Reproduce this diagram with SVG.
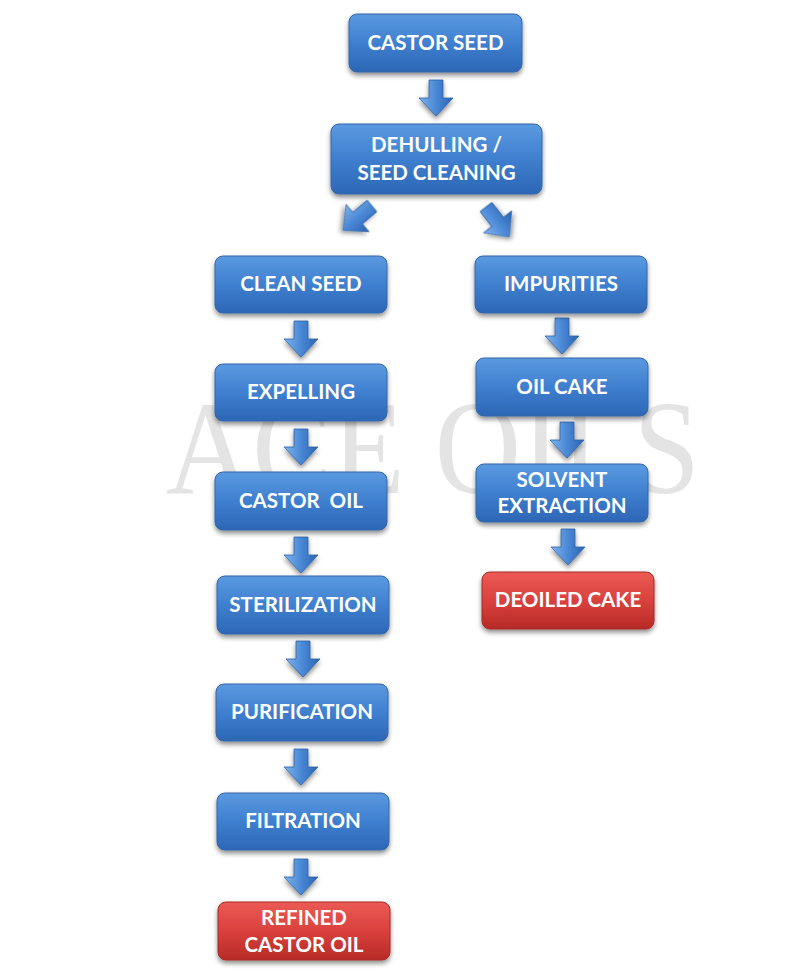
<svg xmlns="http://www.w3.org/2000/svg" width="796" height="979" viewBox="0 0 796 979">
<defs>
<linearGradient id="gb" x1="0" y1="0" x2="0" y2="1">
<stop offset="0" stop-color="#5b9ae0"/>
<stop offset="0.5" stop-color="#3f7fcf"/>
<stop offset="1" stop-color="#2c67b5"/>
</linearGradient>
<linearGradient id="gr" x1="0" y1="0" x2="0" y2="1">
<stop offset="0" stop-color="#ec5a55"/>
<stop offset="0.5" stop-color="#d9413d"/>
<stop offset="1" stop-color="#b82a27"/>
</linearGradient>
<linearGradient id="ga" x1="0" y1="0" x2="1" y2="0">
<stop offset="0" stop-color="#7fb3ea"/>
<stop offset="0.5" stop-color="#4a88d6"/>
<stop offset="1" stop-color="#2a63b0"/>
</linearGradient>
<filter id="sh" x="-10%" y="-20%" width="120%" height="150%">
<feGaussianBlur in="SourceAlpha" stdDeviation="2.5"/>
<feOffset dx="0" dy="3" result="b"/>
<feComponentTransfer><feFuncA type="linear" slope="0.45"/></feComponentTransfer>
<feMerge><feMergeNode/><feMergeNode in="SourceGraphic"/></feMerge>
</filter>
<path id="arr" d="M-7,0 H7 V18 H17 L0,36 L-17,18 H-7 Z"/>
</defs>
<style>
.b{fill:url(#gb);stroke:#3266a8;stroke-width:1;filter:url(#sh)}
.r{fill:url(#gr);stroke:#a52a27;stroke-width:1;filter:url(#sh)}
.t{font-family:Lato,"Open Sans","Liberation Sans",sans-serif;font-weight:bold;font-size:20.5px;fill:#ffffff;text-anchor:middle}
.a{fill:url(#ga);stroke:#2f63a8;stroke-width:0.8;filter:url(#sh)}
.w{font-family:"Liberation Serif","Times New Roman",serif;font-size:134px;fill:#e4e4e4}
</style>
<rect width="796" height="979" fill="#ffffff"/>
<text class="w" x="166" y="493" textLength="534" lengthAdjust="spacingAndGlyphs">ACE OILS</text>

<g id="connectors">
<use href="#arr" class="a" transform="translate(436,80)"/>
<use href="#arr" class="a" transform="translate(372,206) rotate(50) scale(1.05)"/>
<use href="#arr" class="a" transform="translate(486,207) rotate(-38) scale(1.05)"/>
<use href="#arr" class="a" transform="translate(301,321)"/>
<use href="#arr" class="a" transform="translate(301,429)"/>
<use href="#arr" class="a" transform="translate(301,537)"/>
<use href="#arr" class="a" transform="translate(303,641)"/>
<use href="#arr" class="a" transform="translate(301,749)"/>
<use href="#arr" class="a" transform="translate(301,859)"/>
<use href="#arr" class="a" transform="translate(562,318)"/>
<use href="#arr" class="a" transform="translate(567,422)"/>
<use href="#arr" class="a" transform="translate(568,529)"/>
</g>

<g id="castor-seed"><rect class="b" x="349" y="14" width="173" height="58" rx="8"/><text class="t" x="435.5" y="50">CASTOR SEED</text></g>
<g id="dehulling"><rect class="b" x="331" y="124" width="211" height="70" rx="8"/><text class="t" x="436.5" y="152">DEHULLING /</text><text class="t" x="436.5" y="180">SEED CLEANING</text></g>
<g id="clean-seed"><rect class="b" x="215" y="256" width="172" height="57" rx="8"/><text class="t" x="301" y="291">CLEAN SEED</text></g>
<g id="impurities"><rect class="b" x="475" y="256" width="172" height="57" rx="8"/><text class="t" x="561" y="291">IMPURITIES</text></g>
<g id="expelling"><rect class="b" x="215" y="364" width="172" height="57" rx="8"/><text class="t" x="301" y="399">EXPELLING</text></g>
<g id="oil-cake"><rect class="b" x="476" y="358" width="172" height="58" rx="8"/><text class="t" x="562" y="394">OIL CAKE</text></g>
<g id="castor-oil"><rect class="b" x="215" y="472" width="172" height="58" rx="8"/><text class="t" x="301" y="508" xml:space="preserve">CASTOR  OIL</text></g>
<g id="solvent-extraction"><rect class="b" x="476" y="464" width="172" height="58" rx="8"/><text class="t" x="562" y="487">SOLVENT</text><text class="t" x="562" y="513">EXTRACTION</text></g>
<g id="deoiled-cake"><rect class="r" x="482" y="572" width="172" height="57" rx="8"/><text class="t" x="568" y="607">DEOILED CAKE</text></g>
<g id="sterilization"><rect class="b" x="217" y="576" width="172" height="58" rx="8"/><text class="t" x="303" y="612">STERILIZATION</text></g>
<g id="purification"><rect class="b" x="216" y="684" width="172" height="57" rx="8"/><text class="t" x="302" y="719">PURIFICATION</text></g>
<g id="filtration"><rect class="b" x="217" y="793" width="172" height="57" rx="8"/><text class="t" x="303" y="828">FILTRATION</text></g>
<g id="refined-castor-oil"><rect class="r" x="218" y="902" width="172" height="58" rx="8"/><text class="t" x="304" y="925">REFINED</text><text class="t" x="304" y="952">CASTOR OIL</text></g>
</svg>
